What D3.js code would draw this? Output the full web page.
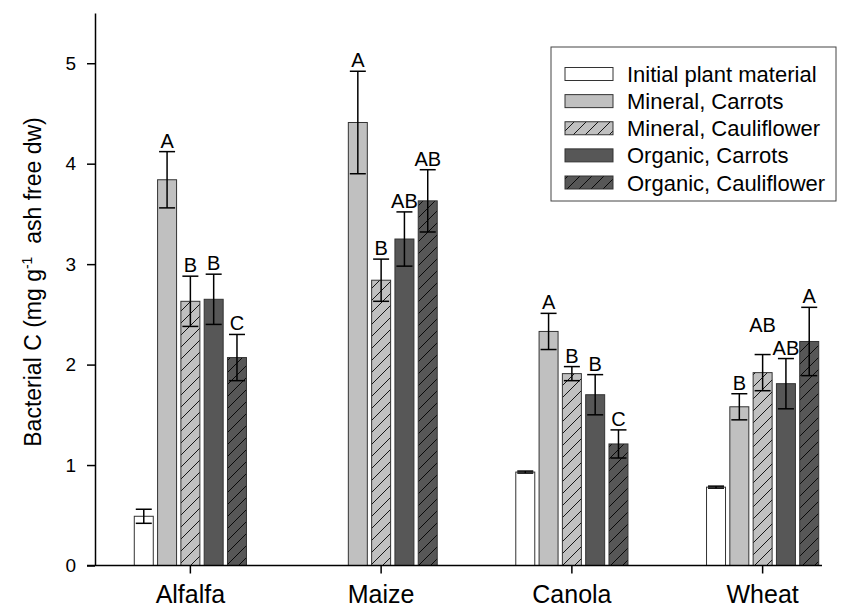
<!DOCTYPE html>
<html><head><meta charset="utf-8">
<script src="https://cdn.jsdelivr.net/npm/d3@7"></script>
<style>
body{margin:0;background:#fff}
svg{display:block;font-family:"Liberation Sans",Arial,Helvetica,sans-serif}
</style>
</head><body>
<svg id="chart" width="847" height="606"></svg>
<script>
// Bacterial C per crop residue and treatment (mean ± SE, letters = significance groups)
const categories = ["Alfalfa", "Maize", "Canola", "Wheat"];
const seriesNames = ["Initial plant material", "Mineral, Carrots", "Mineral, Cauliflower", "Organic, Carrots", "Organic, Cauliflower"];

const initialPlant      = [0.49, null, 0.93, 0.78];
const initialPlantErr   = [0.07, null, 0.01, 0.01];
const mineralCarrots    = [3.84, 4.41, 2.33, 1.58];
const mineralCarrotsErr = [0.28, 0.51, 0.18, 0.13];
const mineralCauli      = [2.63, 2.84, 1.91, 1.92];
const mineralCauliErr   = [0.25, 0.21, 0.07, 0.18];
const organicCarrots    = [2.65, 3.25, 1.70, 1.81];
const organicCarrotsErr = [0.25, 0.27, 0.20, 0.25];
const organicCauli      = [2.07, 3.63, 1.21, 2.23];
const organicCauliErr   = [0.23, 0.31, 0.14, 0.34];

const initialLetters        = [null, null, null, null];
const mineralCarrotsLetters = ["A", "A", "A", "B"];
const mineralCauliLetters   = ["B", "B", "B", "AB"];
const organicCarrotsLetters = ["B", "AB", "B", "AB"];
const organicCauliLetters   = ["C", "AB", "C", "A"];

const yTicks = [0, 1, 2, 3, 4, 5];

const seriesValues  = [initialPlant, mineralCarrots, mineralCauli, organicCarrots, organicCauli];
const seriesErrors  = [initialPlantErr, mineralCarrotsErr, mineralCauliErr, organicCarrotsErr, organicCauliErr];
const seriesLetters = [initialLetters, mineralCarrotsLetters, mineralCauliLetters, organicCarrotsLetters, organicCauliLetters];

// fill styles per series
const styles = [
  {fill: "#ffffff", hatch: false},
  {fill: "#c0c0c0", hatch: false},
  {fill: "#c0c0c0", hatch: true},
  {fill: "#575757", hatch: false},
  {fill: "#575757", hatch: true}
];

const svg = d3.select("#chart");
const axisLeftX = 95, axisBottomY = 565.5, axisTopY = 13, axisRightX = 822;

const y = d3.scaleLinear().domain([0, 5.5]).range([axisBottomY, axisTopY]);
const x = d3.scaleBand().domain(categories).range([axisLeftX, 858]).padding(0);
const step = 23.3;
const inner = d3.scaleBand().domain(d3.range(seriesNames.length))
  .range([-2.5 * step, 2.5 * step]).paddingInner(0.185).paddingOuter(0.0925);

// hatch patterns
const defs = svg.append("defs");
styles.forEach((s, i) => {
  if (!s.hatch) return;
  const p = defs.append("pattern").attr("id", "hatch" + i)
    .attr("patternUnits", "userSpaceOnUse").attr("width", 12).attr("height", 12);
  p.append("rect").attr("width", 12).attr("height", 12).attr("fill", s.fill);
  p.append("path").attr("d", "M-3,3 L3,-3 M0,12 L12,0 M9,15 L15,9")
    .attr("stroke", "#000").attr("stroke-width", 0.9);
});
const fillOf = i => styles[i].hatch ? `url(#hatch${i})` : styles[i].fill;

// bars
const records = [];
categories.forEach((c, ci) => {
  seriesValues.forEach((vals, si) => {
    if (vals[ci] == null) return;
    records.push({c, si, v: vals[ci], e: seriesErrors[si][ci], l: seriesLetters[si][ci]});
  });
});
const cx = d => x(d.c) + x.bandwidth() / 2 + inner(d.si);

svg.append("g").selectAll("rect").data(records).join("rect")
  .attr("x", cx).attr("width", inner.bandwidth())
  .attr("y", d => y(d.v)).attr("height", d => y(0) - y(d.v))
  .attr("fill", d => fillOf(d.si))
  .attr("stroke", "#333").attr("stroke-width", 1);

// error bars
const eb = svg.append("g").attr("stroke", "#000").attr("stroke-width", 1.5).attr("fill", "none");
records.forEach(d => {
  const mx = cx(d) + inner.bandwidth() / 2;
  const y1 = y(d.v + d.e), y0 = y(d.v - d.e);
  eb.append("line").attr("x1", mx).attr("x2", mx).attr("y1", y1).attr("y2", y0);
  eb.append("line").attr("x1", mx - 8).attr("x2", mx + 8).attr("y1", y1).attr("y2", y1);
  eb.append("line").attr("x1", mx - 8).attr("x2", mx + 8).attr("y1", y0).attr("y2", y0);
});

// significance letters, placed just above the upper error cap
const letters = svg.append("g").selectAll("text").data(records.filter(d => d.l)).join("text")
  .attr("x", d => cx(d) + inner.bandwidth() / 2)
  .attr("y", d => y(d.v + d.e) - 4)
  .attr("text-anchor", "middle").attr("font-size", 20).attr("fill", "#000")
  .text(d => d.l);

// lift a letter above its right-hand neighbour when the two would collide
categories.forEach(c => {
  const nodes = letters.filter(d => d.c === c).nodes();
  for (let i = nodes.length - 2; i >= 0; i--) {
    const a = nodes[i].getBBox(), b = nodes[i + 1].getBBox();
    const hOverlap = a.x + a.width > b.x + 1;
    const vOverlap = a.y < b.y + b.height && a.y + a.height > b.y;
    if (hOverlap && vOverlap) {
      const descent = a.y + a.height - (+nodes[i].getAttribute("y"));
      d3.select(nodes[i]).attr("y", b.y - descent - 1);
    }
  }
});

// y axis
const yAxis = svg.append("g").attr("transform", `translate(${axisLeftX},0)`)
  .call(d3.axisLeft(y).tickValues(yTicks).tickFormat(d3.format("d")).tickSize(8).tickPadding(11).tickSizeOuter(0));
yAxis.attr("font-family", null);
yAxis.select(".domain").attr("stroke-width", 1.5);
yAxis.selectAll(".tick line").attr("stroke-width", 1.5);
yAxis.selectAll(".tick text").attr("font-size", 19).attr("fill", "#000");

// x axis
const xAxis = svg.append("g").attr("transform", `translate(0,${axisBottomY})`)
  .call(d3.axisBottom(x).tickSize(8).tickPadding(10).tickSizeOuter(0));
xAxis.attr("font-family", null);
xAxis.select(".domain").remove();
xAxis.append("line").attr("x1", axisLeftX - 8).attr("x2", axisRightX)
  .attr("stroke", "#000").attr("stroke-width", 1.5);
xAxis.selectAll(".tick line").attr("stroke-width", 1.5);
xAxis.selectAll(".tick text").attr("font-size", 25).attr("fill", "#000").attr("dy", null).attr("y", 37);

// y axis title
const title = svg.append("text")
  .attr("transform", "translate(41,282) rotate(-90)")
  .attr("text-anchor", "middle").attr("font-size", 23).attr("fill", "#000");
title.append("tspan").text("Bacterial C (mg g");
title.append("tspan").attr("font-size", 14).attr("dy", -9).text("-1");
title.append("tspan").attr("dy", 9).text("\u00a0 ash free dw)");

// legend
const lg = svg.append("g");
lg.append("rect").attr("x", 551).attr("y", 47).attr("width", 285).attr("height", 154)
  .attr("fill", "#fff").attr("stroke", "#444").attr("stroke-width", 1);
const rowY = d3.scaleLinear().domain([0, 4]).range([74, 182.5]);
seriesNames.forEach((name, i) => {
  lg.append("rect").attr("x", 565).attr("y", rowY(i) - 6.5).attr("width", 48).attr("height", 13)
    .attr("fill", fillOf(i)).attr("stroke", "#333").attr("stroke-width", 1);
  lg.append("text").attr("x", 627).attr("y", rowY(i) + 8)
    .attr("font-size", 22).attr("fill", "#000").text(name);
});
</script>
</body></html>
